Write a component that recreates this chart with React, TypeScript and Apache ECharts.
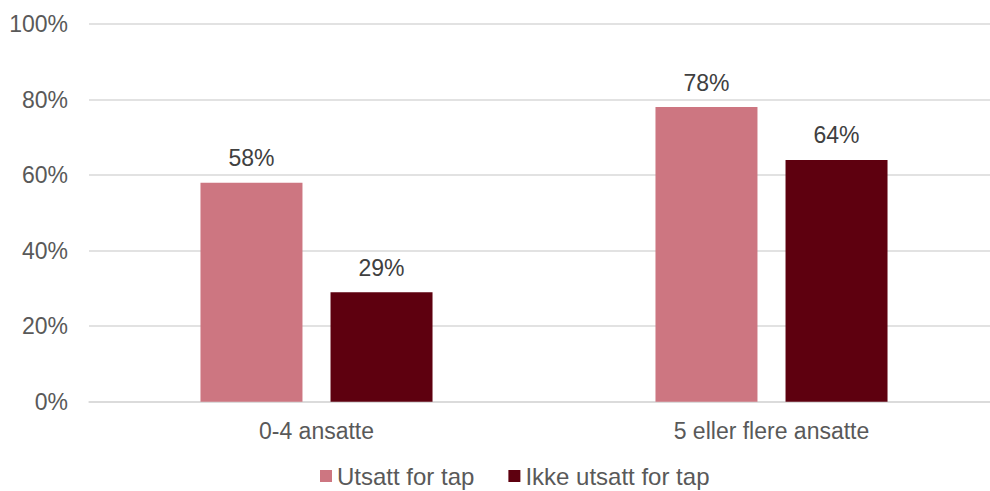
import React, { useEffect, useRef } from "react";
import * as echarts from "echarts";

const categories = ["0-4 ansatte", "5 eller flere ansatte"];
const seriesNames = ["Utsatt for tap", "Ikke utsatt for tap"];
const utsatt = [0.58, 0.78];
const ikkeUtsatt = [0.29, 0.64];
const colors = ["#CD7681", "#5E000F"];

export default function App() {
  const ref = useRef<HTMLDivElement>(null);
  useEffect(() => {
    if (!ref.current) return;
    const chart = echarts.init(ref.current, null, { renderer: "svg" });
    const fontFamily = "'Liberation Sans', Arial, sans-serif";
    const mkSeries = (name: string, data: number[], color: string) => ({
      name,
      type: "bar",
      data,
      barWidth: 102,
      barGap: "27.5%",
      itemStyle: { color },
      label: {
        show: true,
        position: "top",
        distance: 13,
        formatter: (p: any) => Math.round(p.value * 100) + "%",
        color: "#404040",
        fontSize: 23,
        fontFamily,
      },
    });
    chart.setOption({
      animation: false,
      textStyle: { fontFamily },
      grid: { left: 89, right: 0, top: 24, bottom: 89.3, containLabel: false },
      legend: {
        data: seriesNames,
        left: 320,
        top: 464,
        padding: 0,
        itemWidth: 12,
        itemHeight: 12,
        itemGap: 34,
        icon: "rect",
        textStyle: { color: "#595959", fontSize: 24, fontFamily },
      },
      xAxis: {
        type: "category",
        data: categories,
        axisLine: { lineStyle: { color: "#D9D9D9", width: 1.5 } },
        axisTick: { show: false },
        axisLabel: { color: "#595959", fontSize: 23, margin: 18, fontFamily },
      },
      yAxis: {
        type: "value",
        min: 0,
        max: 1,
        interval: 0.2,
        axisLine: { show: false },
        axisTick: { show: false },
        axisLabel: {
          color: "#595959",
          fontSize: 23,
          margin: 21,
          fontFamily,
          formatter: (v: number) => Math.round(v * 100) + "%",
        },
        splitLine: { lineStyle: { color: "#D9D9D9", width: 1.5 } },
      },
      series: [
        mkSeries(seriesNames[0], utsatt, colors[0]),
        mkSeries(seriesNames[1], ikkeUtsatt, colors[1]),
      ],
    });
    return () => chart.dispose();
  }, []);
  return (
    <div style={{ position: "fixed", left: 0, top: 0, width: 990, height: 491, overflow: "hidden", background: "#fff" }}>
      <div ref={ref} style={{ width: 999, height: 491 }} />
    </div>
  );
}
